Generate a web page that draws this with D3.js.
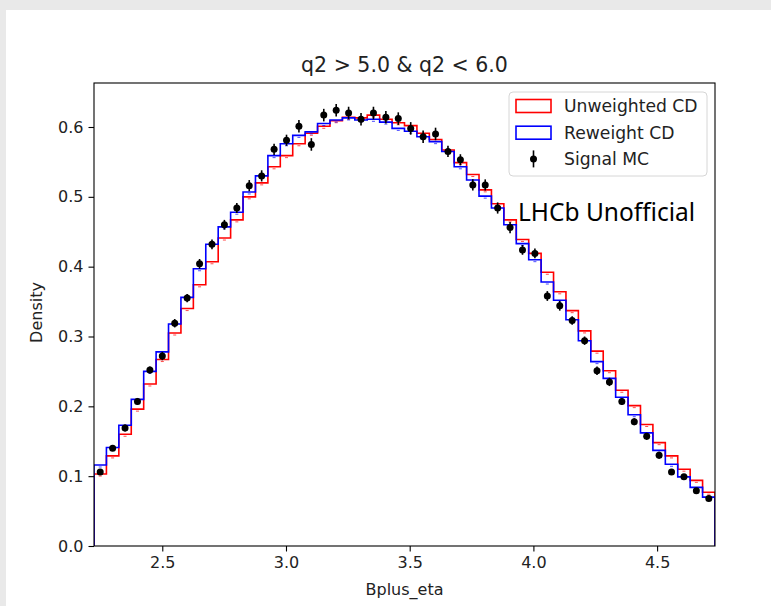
<!DOCTYPE html>
<html>
<head>
<meta charset="utf-8">
<script src="https://cdn.jsdelivr.net/npm/d3@7"></script>
<style>
  body { margin: 0; background: #e9e9e9; }
  svg { display: block; }
</style>
</head>
<body>
<div id="chart"></div>
<script>
// histogram range and binning (50 bins)
const xMin = 2.224;
const binWidth = 0.0502;
const nBins = 50;

// Unweighted CD (red)
const unweighted = [0.103, 0.129, 0.160, 0.196, 0.232, 0.267, 0.305, 0.340, 0.374, 0.407,
    0.441, 0.467, 0.500, 0.520, 0.543, 0.559, 0.576, 0.591, 0.601, 0.609,
    0.614, 0.613, 0.617, 0.611, 0.606, 0.602, 0.591, 0.582, 0.567, 0.549,
    0.532, 0.510, 0.490, 0.467, 0.439, 0.419, 0.392, 0.364, 0.337, 0.308,
    0.279, 0.251, 0.223, 0.201, 0.174, 0.148, 0.129, 0.110, 0.094, 0.077];

// Reweight CD (blue)
const reweight = [0.116, 0.141, 0.173, 0.210, 0.250, 0.278, 0.318, 0.356, 0.397, 0.432,
    0.457, 0.478, 0.507, 0.530, 0.559, 0.576, 0.588, 0.593, 0.605, 0.610,
    0.613, 0.610, 0.611, 0.607, 0.598, 0.594, 0.586, 0.579, 0.565, 0.543,
    0.524, 0.501, 0.484, 0.460, 0.433, 0.410, 0.378, 0.352, 0.324, 0.294,
    0.264, 0.240, 0.213, 0.188, 0.162, 0.137, 0.117, 0.099, 0.084, 0.070];

// Signal MC points and errors
const signalMC = [0.106, 0.140, 0.169, 0.207, 0.252, 0.272, 0.319, 0.355, 0.404, 0.432,
    0.460, 0.484, 0.516, 0.530, 0.568, 0.581, 0.601, 0.575, 0.617, 0.624,
    0.620, 0.611, 0.620, 0.614, 0.612, 0.598, 0.586, 0.590, 0.565, 0.553,
    0.517, 0.517, 0.484, 0.456, 0.424, 0.419, 0.358, 0.344, 0.323, 0.294,
    0.251, 0.235, 0.207, 0.178, 0.157, 0.130, 0.106, 0.099, 0.079, 0.068];
const signalErr = [0.004, 0.004, 0.005, 0.005, 0.005, 0.006, 0.006, 0.006, 0.007, 0.007,
    0.007, 0.007, 0.008, 0.008, 0.008, 0.008, 0.009, 0.009, 0.009, 0.009,
    0.009, 0.009, 0.009, 0.009, 0.009, 0.009, 0.009, 0.009, 0.008, 0.008,
    0.008, 0.008, 0.008, 0.008, 0.007, 0.007, 0.007, 0.007, 0.006, 0.006,
    0.006, 0.006, 0.005, 0.005, 0.005, 0.005, 0.004, 0.004, 0.004, 0.004];

const xTicks = [2.5, 3.0, 3.5, 4.0, 4.5];
const yTicks = [0.0, 0.1, 0.2, 0.3, 0.4, 0.5, 0.6];

const width = 771, height = 606;
const margin = {top: 83, right: 56, bottom: 60, left: 94};
const plotW = width - margin.left - margin.right;
const plotH = height - margin.top - margin.bottom;

const svg = d3.select("#chart").append("svg")
    .attr("width", width)
    .attr("height", height);

// white card on the grey page
svg.append("rect")
    .attr("x", 6).attr("y", 10)
    .attr("width", width - 6).attr("height", height - 10)
    .attr("fill", "#fff");

const g = svg.append("g")
    .attr("transform", `translate(${margin.left}, ${margin.top})`);

const xScale = d3.scaleLinear()
    .domain([xMin, xMin + nBins * binWidth])
    .range([0, plotW]);
const yScale = d3.scaleLinear()
    .domain([0, 0.663])
    .range([plotH, 0]);

const edges = d3.range(nBins + 1).map(i => xMin + i * binWidth);
const centers = d3.range(nBins).map(i => xMin + (i + 0.5) * binWidth);

// step outline like matplotlib histtype='step'
function stepPoints(values) {
    const pts = [[edges[0], 0]];
    values.forEach((v, i) => {
        pts.push([edges[i], v]);
        pts.push([edges[i + 1], v]);
    });
    pts.push([edges[nBins], 0]);
    return pts;
}
const line = d3.line()
    .x(d => xScale(d[0]))
    .y(d => yScale(d[1]));

g.append("clipPath").attr("id", "plot-clip")
    .append("rect").attr("width", plotW).attr("height", plotH + 1);

const plot = g.append("g").attr("clip-path", "url(#plot-clip)");

[[unweighted, "#ff0000"], [reweight, "#0000ff"]].forEach(([vals, col]) => {
    plot.append("path")
        .datum(stepPoints(vals))
        .attr("fill", "none")
        .attr("stroke", col)
        .attr("stroke-width", 1.6)
        .attr("d", line);
    // tiny stat error ticks at bin centres
    plot.selectAll(null).data(vals).enter().append("line")
        .attr("x1", (d, i) => xScale(centers[i]) - 1.5)
        .attr("x2", (d, i) => xScale(centers[i]) + 1.5)
        .attr("y1", d => yScale(d) + 2)
        .attr("y2", d => yScale(d) + 2)
        .attr("stroke", col)
        .attr("stroke-opacity", 0.7)
        .attr("stroke-width", 1);
});

// Signal MC error bars + markers
plot.selectAll(".ebar").data(signalMC).enter().append("line")
    .attr("class", "ebar")
    .attr("x1", (d, i) => xScale(centers[i]))
    .attr("x2", (d, i) => xScale(centers[i]))
    .attr("y1", (d, i) => yScale(d - signalErr[i]))
    .attr("y2", (d, i) => yScale(d + signalErr[i]))
    .attr("stroke", "#000")
    .attr("stroke-width", 1.6);
plot.selectAll(".pt").data(signalMC).enter().append("circle")
    .attr("class", "pt")
    .attr("cx", (d, i) => xScale(centers[i]))
    .attr("cy", d => yScale(d))
    .attr("r", 3.5)
    .attr("fill", "#000");

// axes
const fontTick = "DejaVu Sans, sans-serif";
const xAxis = d3.axisBottom(xScale).tickValues(xTicks).tickFormat(d3.format(".1f")).tickSize(5.5).tickPadding(5);
const yAxis = d3.axisLeft(yScale).tickValues(yTicks).tickFormat(d3.format(".1f")).tickSize(5.5).tickPadding(5);

const gx = g.append("g")
    .attr("transform", `translate(0, ${plotH})`)
    .call(xAxis);
const gy = g.append("g").call(yAxis);
[gx, gy].forEach(a => {
    a.select(".domain").remove();
    a.selectAll("line").attr("stroke", "#000").attr("stroke-width", 1.1);
    a.selectAll("text")
        .attr("fill", "#222")
        .style("font-family", fontTick)
        .style("font-size", "16px");
});

// frame
g.append("rect")
    .attr("width", plotW).attr("height", plotH)
    .attr("fill", "none")
    .attr("stroke", "#000")
    .attr("stroke-width", 1.1);

// labels
svg.append("text")
    .attr("x", margin.left + plotW / 2)
    .attr("y", 72)
    .attr("text-anchor", "middle")
    .style("font-family", fontTick)
    .style("font-size", "20.5px")
    .attr("fill", "#222")
    .text("q2 > 5.0 & q2 < 6.0");

svg.append("text")
    .attr("x", margin.left + plotW / 2)
    .attr("y", 595)
    .attr("text-anchor", "middle")
    .style("font-family", fontTick)
    .style("font-size", "16px")
    .attr("fill", "#222")
    .text("Bplus_eta");

svg.append("text")
    .attr("transform", `translate(42, ${margin.top + plotH / 2 - 2}) rotate(-90)`)
    .attr("text-anchor", "middle")
    .style("font-family", fontTick)
    .style("font-size", "16px")
    .attr("fill", "#222")
    .text("Density");

// LHCb label
svg.append("text")
    .attr("x", 518)
    .attr("y", 221)
    .style("font-family", "'Noto Sans', 'Open Sans', sans-serif")
    .style("font-size", "24.5px")
    .attr("fill", "#000")
    .text("LHCb Unofficial");

// legend
const legend = svg.append("g").attr("transform", "translate(509, 92)");
legend.append("rect")
    .attr("width", 198).attr("height", 84)
    .attr("rx", 4)
    .attr("fill", "#fff").attr("fill-opacity", 0.8)
    .attr("stroke", "#d6d6d6");

const legendItems = [
    {label: "Unweighted CD", color: "#ff0000", type: "patch"},
    {label: "Reweight CD", color: "#0000ff", type: "patch"},
    {label: "Signal MC", color: "#000", type: "err"}
];
legendItems.forEach((d, i) => {
    const row = legend.append("g").attr("transform", `translate(0, ${i * 26.7})`);
    if (d.type === "patch") {
        row.append("rect")
            .attr("x", 7).attr("y", 7.5)
            .attr("width", 35).attr("height", 13)
            .attr("fill", "none")
            .attr("stroke", d.color)
            .attr("stroke-width", 1.6);
    } else {
        row.append("line")
            .attr("x1", 24.5).attr("x2", 24.5)
            .attr("y1", 5).attr("y2", 22)
            .attr("stroke", "#000").attr("stroke-width", 1.6);
        row.append("circle")
            .attr("cx", 24.5).attr("cy", 13.5).attr("r", 3.5).attr("fill", "#000");
    }
    row.append("text")
        .attr("x", 55).attr("y", 20)
        .style("font-family", fontTick)
        .style("font-size", "17.2px")
        .attr("fill", "#222")
        .text(d.label);
});
</script>
</body>
</html>
